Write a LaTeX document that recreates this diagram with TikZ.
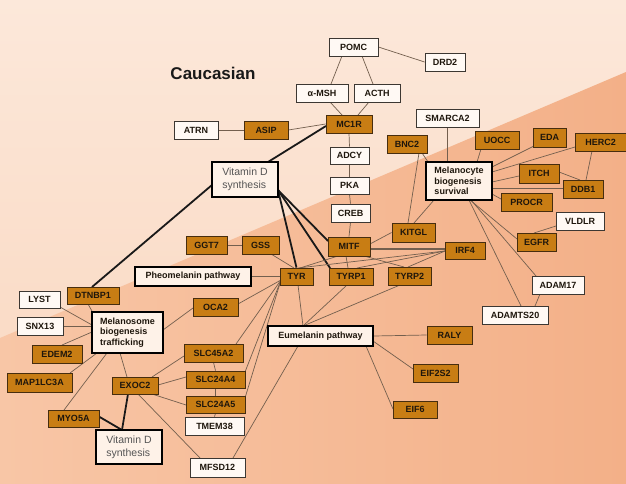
\documentclass[tikz,border=0pt]{standalone}
\usepackage{fontspec}
\setmainfont{Liberation Sans}
\usetikzlibrary{calc}
\definecolor{og}{RGB}{200,125,20}
\definecolor{obrd}{RGB}{70,45,15}
\definecolor{wfill}{RGB}{255,249,244}
\definecolor{wbrd}{RGB}{60,55,50}
\definecolor{bfill}{RGB}{254,242,232}
\definecolor{txt}{RGB}{30,22,12}
\definecolor{edgec}{RGB}{115,95,78}
\definecolor{vdtxt}{RGB}{85,85,85}
\definecolor{bgA}{RGB}{252,232,218}
\definecolor{bgB}{RGB}{249,214,190}
\definecolor{bgC}{RGB}{248,198,166}
\definecolor{bgD}{RGB}{243,176,136}
\pgfdeclarelayer{bg}
\pgfdeclarelayer{edges}
\pgfsetlayers{bg,edges,main}
\tikzset{
  box/.style={rectangle, inner sep=0pt, line width=0.8pt, text=txt,
    font=\bfseries\fontsize{9}{10}\selectfont},
  sz/.style 2 args={minimum width=#1pt, minimum height=#2pt},
  ob/.style={box, fill=og, draw=obrd},
  wb/.style={box, fill=wfill, draw=wbrd},
  bb/.style={rectangle, inner sep=0pt, line width=1.6pt, draw=black, fill=bfill, text=txt,
    font=\bfseries\fontsize{9}{10.5}\selectfont},
  vd/.style={rectangle, inner sep=0pt, line width=1.6pt, draw=black, fill=bfill, text=vdtxt,
    align=left, font=\fontsize{10.5}{13}\selectfont},
  ln/.style={draw=edgec, line width=0.7pt},
  tk/.style={draw=black!90, line width=1.8pt},
}
\begin{document}
\begin{tikzpicture}[x=1pt,y=-1pt]
\useasboundingbox (0,0) rectangle (626,484);
\begin{pgfonlayer}{bg}
\shade[left color=bgA, right color=bgB, shading angle=0] (0,0) rectangle (626,484);
\shade[top color=bgA, bottom color=bgB, opacity=0.6] (0,0) rectangle (626,484);
\shade[left color=bgC, right color=bgD] (0,338) -- (626,72) -- (626,484) -- (0,484) -- cycle;
\end{pgfonlayer}

\node[font=\bfseries\fontsize{17}{20}\selectfont, text=black!90] (title) at (213,73) {Caucasian};

% top chain
\node[wb, sz={49}{18}] (pomc) at (353.5,47) {POMC};
\node[wb, sz={40}{18}] (drd2) at (445,62) {DRD2};
\node[wb, sz={52}{18}] (amsh) at (322,93) {α-MSH};
\node[wb, sz={46}{18}] (acth) at (377,93) {ACTH};
\node[wb, sz={44}{18}] (atrn) at (196,130) {ATRN};
\node[ob, sz={44}{18}] (asip) at (266,130) {ASIP};
\node[ob, sz={46}{18}] (mc1r) at (349,124) {MC1R};
\node[wb, sz={39}{17}] (adcy) at (349.5,155.5) {ADCY};
\node[wb, sz={39}{17}] (pka) at (349.5,185.5) {PKA};
\node[wb, sz={39}{18}] (creb) at (350.5,213) {CREB};
\node[ob, sz={42}{19}] (mitf) at (349,246.5) {MITF};
\node[vd, sz={66}{35}] (vitd1) at (245,179.5) {Vitamin D\\synthesis};

% right cluster
\node[wb, sz={63}{18}] (smarca2) at (447.5,118) {SMARCA2};
\node[ob, sz={40}{18}] (bnc2) at (407,144) {BNC2};
\node[ob, sz={44}{18}] (uocc) at (497,140) {UOCC};
\node[ob, sz={33}{19}] (eda) at (549.5,137.5) {EDA};
\node[ob, sz={51}{18}] (herc2) at (600.5,142) {HERC2};
\node[bb, sz={66}{38}, align=left] (mel) at (459,181) {Melanocyte\\biogenesis\\survival};
\node[ob, sz={40}{19}] (itch) at (539,173.5) {ITCH};
\node[ob, sz={40}{18}] (ddb1) at (583,189) {DDB1};
\node[ob, sz={51}{18}] (procr) at (526.5,202) {PROCR};
\node[wb, sz={48}{18}] (vldlr) at (580,221) {VLDLR};
\node[ob, sz={39}{18}] (egfr) at (536.5,242) {EGFR};
\node[ob, sz={43}{19}] (kitgl) at (413.5,232.5) {KITGL};
\node[ob, sz={40}{17}] (irf4) at (465,250.5) {IRF4};
\node[wb, sz={52}{18}] (adam17) at (558,285) {ADAM17};
\node[wb, sz={66}{18}] (adamts20) at (515,315) {ADAMTS20};

% middle
\node[ob, sz={41}{18}] (ggt7) at (206.5,245) {GGT7};
\node[ob, sz={37}{18}] (gss) at (260.5,245) {GSS};
\node[bb, sz={116}{19}] (pheo) at (193,276.5) {Pheomelanin pathway};
\node[ob, sz={33}{17}] (tyr) at (296.5,276.5) {TYR};
\node[ob, sz={44}{17}] (tyrp1) at (351,276.5) {TYRP1};
\node[ob, sz={43}{18}] (tyrp2) at (409.5,276) {TYRP2};
\node[bb, sz={105}{20}] (eum) at (320.5,336) {Eumelanin pathway};
\node[ob, sz={45}{18}] (raly) at (449.5,335) {RALY};
\node[ob, sz={45}{18}] (eif2s2) at (435.5,373) {EIF2S2};
\node[ob, sz={44}{17}] (eif6) at (415,409.5) {EIF6};

% left cluster
\node[wb, sz={41}{17}] (lyst) at (39.5,299.5) {LYST};
\node[ob, sz={52}{17}] (dtnbp1) at (93,295.5) {DTNBP1};
\node[wb, sz={46}{18}] (snx13) at (40,326) {SNX13};
\node[bb, sz={71}{41}, align=left] (mel2) at (127.5,332.5) {Melanosome\\biogenesis\\trafficking};
\node[ob, sz={45}{18}] (oca2) at (215.5,307) {OCA2};
\node[ob, sz={50}{18}] (edem2) at (57,354) {EDEM2};
\node[ob, sz={65}{19}] (map) at (39.5,382.5) {MAP1LC3A};
\node[ob, sz={59}{18}] (slc45) at (213.5,353) {SLC45A2};
\node[ob, sz={59}{17}] (slc4) at (215.5,379.5) {SLC24A4};
\node[ob, sz={46}{17}] (exoc2) at (135,385.5) {EXOC2};
\node[ob, sz={59}{17}] (slc5) at (215.5,404.5) {SLC24A5};
\node[ob, sz={51}{17}] (myo5a) at (73.5,418.5) {MYO5A};
\node[wb, sz={59}{18}] (tmem) at (214.5,426) {TMEM38};
\node[vd, sz={66}{34}] (vitd2) at (129,447) {Vitamin D\\synthesis};
\node[wb, sz={55}{19}] (mfsd) at (217.5,467.5) {MFSD12};

\begin{pgfonlayer}{edges}
% top
\draw[ln] (pomc.east) -- (drd2.west);
\draw[ln] ($(pomc)+(-11.5,9)$) -- ($(amsh)+(9,-9)$);
\draw[ln] ($(pomc)+(8.5,9)$) -- ($(acth)+(-4,-9)$);
\draw[ln] ($(amsh)+(8,9)$) -- ($(mc1r)+(-7,-9)$);
\draw[ln] ($(acth)+(-8,9)$) -- ($(mc1r)+(9,-9)$);
\draw[ln] (atrn.east) -- (asip.west);
\draw[ln] (asip.east) -- (mc1r.west);
\draw[ln] (mc1r.south) -- (adcy.north);
\draw[ln] (adcy.south) -- (pka.north);
\draw[ln] (pka.south) -- (creb.north);
\draw[ln] (creb.south) -- (mitf.north);
% thick vitamin D
\draw[tk] ($(vitd1)+(23,-17.5)$) -- ($(mc1r)+(-23,2)$);
\draw[tk] ($(vitd1)+(-33,5.5)$) -- ($(dtnbp1)+(-1,-8.5)$);
\draw[tk] ($(vitd1)+(33,10.5)$) -- (tyr.north);
\draw[tk] ($(vitd1)+(33,10.5)$) -- ($(tyrp1)+(-21,-8.5)$);
\draw[tk] ($(vitd1)+(33,10.5)$) -- ($(mitf)+(-21,-5.5)$);
\draw[tk] ($(vitd2)+(-7,-17)$) -- ($(exoc2)+(-7,8.5)$);
\draw[tk] ($(vitd2)+(-7,-17)$) -- ($(myo5a)+(24.5,-2.5)$);
% MITF area
\draw[ln] ($(mitf)+(21,-2.5)$) -- (kitgl.west);
\draw[ln, line width=1.2pt] ($(mitf)+(21,2.5)$) -- ($(irf4)+(-20,-1.5)$);
\draw[ln] ($(mitf)+(-3,9.5)$) -- ($(tyrp1)+(-3,-8.5)$);
\draw[ln] ($(mitf)+(15,9.5)$) -- ($(tyrp2)+(-5.5,-9)$);
\draw[ln] ($(mitf)+(-11,9.5)$) -- ($(tyr)+(3.5,-8.5)$);
\draw[ln] ($(irf4)+(-20,0.5)$) -- ($(tyr)+(1.5,-8.5)$);
\draw[ln] ($(irf4)+(-20,0.5)$) -- ($(tyrp1)+(6,-8.5)$);
\draw[ln] ($(irf4)+(-20,0.5)$) -- ($(tyrp2)+(-1.5,-9)$);
\draw[ln] (ggt7.east) -- (gss.west);
\draw[ln] ($(gss)+(10.5,9)$) -- ($(tyr)+(-2.5,-8.5)$);
\draw[ln] (pheo.east) -- (tyr.west);
% TYR fan
\draw[ln] ($(tyr)+(-15.5,3.5)$) -- ($(oca2)+(22.5,-3)$);
\draw[ln] ($(tyr)+(-15.5,3.5)$) -- ($(slc45)+(22.5,-9)$);
\draw[ln] ($(tyr)+(-15.5,3.5)$) -- ($(slc4)+(29.5,-7.5)$);
\draw[ln] ($(tyr)+(-15.5,3.5)$) -- ($(slc5)+(29.5,-6.5)$);
% eumelanin
\draw[ln] ($(tyr)+(1.5,8.5)$) -- ($(eum)+(-17.5,-10)$);
\draw[ln] ($(tyrp1)+(-4,8.5)$) -- ($(eum)+(-17.5,-10)$);
\draw[ln] ($(tyrp2)+(-9.5,9)$) -- ($(eum)+(-17.5,-10)$);
\draw[ln] (eum.east) -- (raly.west);
\draw[ln] ($(eum)+(52.5,5)$) -- ($(eif2s2)+(-22.5,-4)$);
\draw[ln] ($(eum)+(45.5,10)$) -- ($(eif6)+(-22,-0.5)$);
\draw[ln] ($(eum)+(-22.5,10)$) -- ($(mfsd)+(15.5,-9.5)$);
% melanocyte cluster
\draw[ln] ($(smarca2)+(-0.5,9)$) -- ($(mel)+(-12,-19)$);
\draw[ln] ($(bnc2)+(15,9)$) -- ($(mel)+(-31,-19)$);
\draw[ln] ($(bnc2)+(12,9)$) -- ($(kitgl)+(-5.5,-9.5)$);
\draw[ln] ($(uocc)+(-16,9)$) -- ($(mel)+(18,-19)$);
\draw[ln] ($(eda)+(-15.5,8.5)$) -- ($(mel)+(33,-14)$);
\draw[ln] ($(herc2)+(-25.5,5)$) -- ($(mel)+(33,-9)$);
\draw[ln] ($(itch)+(-20,2.5)$) -- ($(mel)+(33,1)$);
\draw[ln] ($(itch)+(20,-1.5)$) -- ($(ddb1)+(-3,-9)$);
\draw[ln] ($(herc2)+(-8.5,9)$) -- ($(ddb1)+(3,-9)$);
\draw[ln] ($(mel)+(33,7)$) -- ($(ddb1)+(-20,-1)$);
\draw[ln] ($(mel)+(33,13)$) -- ($(procr)+(-25.5,-3)$);
\draw[ln] ($(kitgl)+(0.5,-9.5)$) -- ($(mel)+(-25,19)$);
\draw[ln] ($(mel)+(11,19)$) -- ($(egfr)+(-19.5,-3)$);
\draw[ln] ($(mel)+(12,19)$) -- ($(adam17)+(-22,-9)$);
\draw[ln] ($(mel)+(10,19)$) -- ($(adamts20)+(6,-9)$);
\draw[ln] ($(vldlr)+(-24,5)$) -- ($(egfr)+(-2.5,-9)$);
\draw[ln] ($(adam17)+(-18,9)$) -- ($(adamts20)+(20,-9)$);
% melanosome cluster
\draw[ln] ($(dtnbp1)+(-5,8.5)$) -- ($(mel2)+(-35,-20.5)$);
\draw[ln] ($(lyst)+(20.5,7.5)$) -- ($(mel2)+(-35.5,-7.5)$);
\draw[ln] (snx13.east) -- ($(mel2)+(-35.5,-6.5)$);
\draw[ln] ($(edem2)+(5,-9)$) -- ($(mel2)+(-35.5,-0.5)$);
\draw[ln] ($(map)+(30.5,-9.5)$) -- ($(mel2)+(-30.5,20.5)$);
\draw[ln] ($(myo5a)+(-9.5,-8.5)$) -- ($(mel2)+(-20.5,20.5)$);
\draw[ln] ($(exoc2)+(-8,-8.5)$) -- ($(mel2)+(-7.5,20.5)$);
\draw[ln] ($(oca2)+(-22.5,1)$) -- ($(mel2)+(35.5,-2.5)$);
% EXOC2 and SLC column
\draw[ln] ($(exoc2)+(17,-8.5)$) -- ($(slc45)+(-29.5,3)$);
\draw[ln] ($(exoc2)+(23,-0.5)$) -- ($(slc4)+(-29.5,-2.5)$);
\draw[ln] ($(exoc2)+(17,8.5)$) -- ($(slc5)+(-29.5,0.5)$);
\draw[ln] ($(exoc2)+(3,8.5)$) -- ($(mfsd)+(-17.5,-9.5)$);
\draw[ln] (slc45.south) -- (slc4.north);
\draw[ln] (slc4.south) -- (slc5.north);
\draw[ln] (slc5.south) -- (tmem.north);
\end{pgfonlayer}
\end{tikzpicture}
\end{document}
